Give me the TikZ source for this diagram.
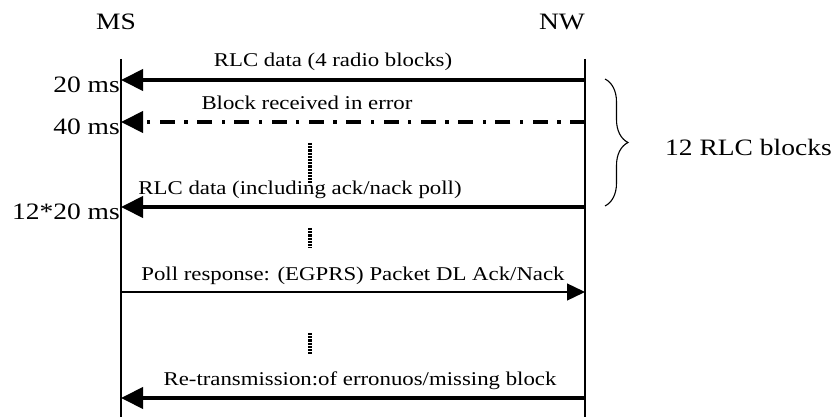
\documentclass[tikz,border=0pt]{standalone}
\usepackage{fontspec}
\setmainfont{Liberation Serif}[FakeStretch=1.17]
\usetikzlibrary{arrows.meta,decorations.pathreplacing}

\begin{document}
\begin{tikzpicture}[x=1pt,y=-1pt,
    lbl/.style={font=\fontsize{23.5}{26}\selectfont,inner sep=0pt},
    msg/.style={font=\fontsize{19.5}{22}\selectfont,inner sep=0pt,anchor=base},
    life/.style={line width=1.3pt},
    bigmsg/.style={line width=4pt,-{Triangle[length=22pt,width=21pt]}},
    smallmsg/.style={line width=1.3pt,-{Triangle[length=18pt,width=17pt]}},
    waitdots/.style={line width=3.2pt,dash pattern=on 2.2pt off 1pt}]
    \useasboundingbox (0,0) rectangle (839,417);
    % entities
    \node[lbl,anchor=base] (ms) at (116,30) {MS};
    \node[lbl,anchor=base] (nw) at (562,30) {NW};
    \coordinate (mstop) at (121,59); \coordinate (msbot) at (121,417);
    \coordinate (nwtop) at (585,59); \coordinate (nwbot) at (585,417);
    \draw[life] (mstop) -- (msbot);
    \draw[life] (nwtop) -- (nwbot);
    % message levels
    \foreach \n/\y in {a/80,b/122,c/207,d/292,e/398}{
      \coordinate (ms\n) at (121,\y); \coordinate (nw\n) at (585,\y);
    }
    \draw[bigmsg] (nwa) -- (msa);
    \draw[bigmsg,dash pattern=on 15pt off 9.5pt on 3.3pt off 9.5pt] (nwb) -- (msb);
    \draw[bigmsg] (nwc) -- (msc);
    \draw[smallmsg] (msd) -- (nwd);
    \draw[bigmsg] (nwe) -- (mse);
    \node[msg] (la) at (333,67) {RLC data (4 radio blocks)};
    \node[msg] (lb) at (307,110) {Block received in error};
    \node[msg] (lc) at (300,195) {RLC data (including ack/nack poll)};
    \node[msg] (ld) at (353,280) {Poll response: (EGPRS) Packet DL Ack/Nack};
    \node[msg] (le) at (360,385) {Re-transmission:of erronuos/missing block};
    % time stamps
    \node[lbl,anchor=base east] (ta) at (120,93) {20 ms};
    \node[lbl,anchor=base east] (tb) at (120,135) {40 ms};
    \node[lbl,anchor=base east] (tc) at (120,220) {12*20 ms};
    % pauses
    \draw[waitdots] (310,143) -- (310,183);
    \draw[waitdots] (310,228) -- (310,248);
    \draw[waitdots] (310,333) -- (310,355);
    % block count
    \draw[line width=1.1pt,decorate,decoration={brace,amplitude=23pt}] (605,79) -- (605,206);
    \node[lbl,anchor=west] (blk) at (665,147) {12 RLC blocks};
\end{tikzpicture}
\end{document}
